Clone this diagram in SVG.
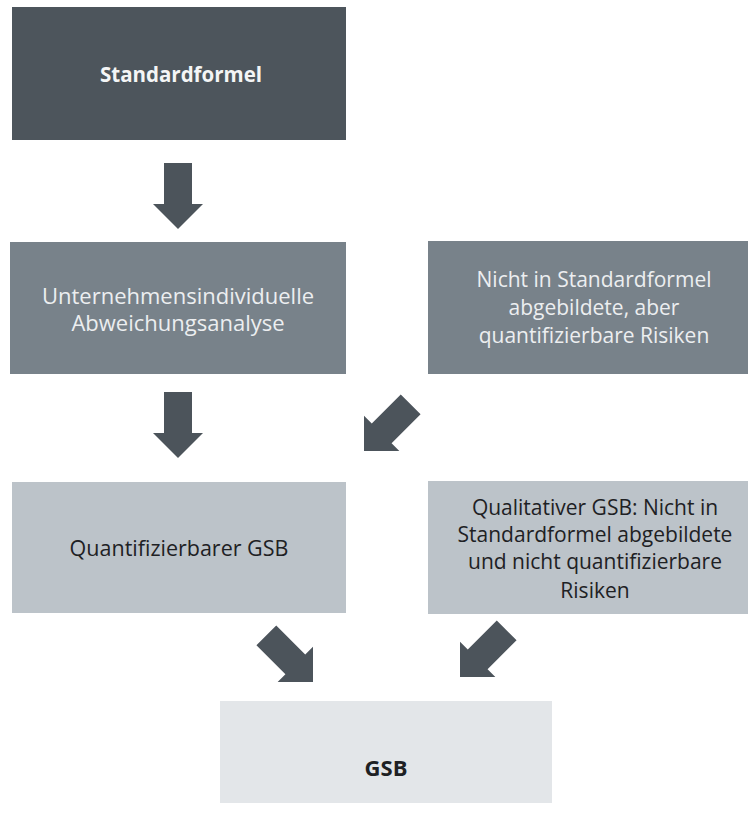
<svg xmlns="http://www.w3.org/2000/svg" width="750" height="830" viewBox="0 0 750 830">
<style>
.t{font-family:"Open Sans","Liberation Sans",sans-serif;font-size:21px;text-anchor:middle}
.b{font-weight:bold}
.w{fill:#f4f5f6}
.lw{fill:#eceef0}
.dk{fill:#1e2124}
.arr{fill:#4c545b}
</style>
<defs>
<path id="arrow" d="M-66,-14 L-25,-14 L-25,-25 L0,0 L-25,25 L-25,14 L-66,14 Z"/>
</defs>
<rect width="750" height="830" fill="#ffffff"/>
<g id="standardformel">
<rect x="12" y="7" width="334" height="133" fill="#4d555c"/>
<text class="t b w" x="181" y="82" style="font-size:20.5px">Standardformel</text>
</g>
<g id="abweichungsanalyse">
<rect x="10" y="242" width="336" height="132" fill="#78828a"/>
<text class="t lw" x="178" y="304" style="font-size:22px">Unternehmensindividuelle</text>
<text class="t lw" x="178" y="331" style="font-size:22px">Abweichungsanalyse</text>
</g>
<g id="quantifizierbare-risiken">
<rect x="428" y="241" width="320" height="133" fill="#78828a"/>
<text class="t lw" x="594" y="287">Nicht in Standardformel</text>
<text class="t lw" x="594" y="315">abgebildete, aber</text>
<text class="t lw" x="594" y="343">quantifizierbare Risiken</text>
</g>
<g id="quantifizierbarer-gsb">
<rect x="12" y="482" width="334" height="131" fill="#bcc3c9"/>
<text class="t dk" x="179" y="556" style="font-size:21.5px">Quantifizierbarer GSB</text>
</g>
<g id="qualitativer-gsb">
<rect x="428" y="481" width="320" height="133" fill="#bcc3c9"/>
<text class="t dk" x="595" y="515">Qualitativer GSB: Nicht in</text>
<text class="t dk" x="595" y="542">Standardformel abgebildete</text>
<text class="t dk" x="595" y="569">und nicht quantifizierbare</text>
<text class="t dk" x="595" y="598">Risiken</text>
</g>
<g id="gsb">
<rect x="220" y="701" width="332" height="102" fill="#e3e6e9"/>
<text class="t b dk" x="386" y="776" style="font-size:22px">GSB</text>
</g>
<g id="connectors" class="arr">
<use href="#arrow" transform="translate(178,229) rotate(90)"/>
<use href="#arrow" transform="translate(178,458) rotate(90)"/>
<use href="#arrow" transform="translate(364,451) rotate(135)"/>
<use href="#arrow" transform="translate(313,682) rotate(45)"/>
<use href="#arrow" transform="translate(460,677) rotate(135)"/>
</g>
</svg>
